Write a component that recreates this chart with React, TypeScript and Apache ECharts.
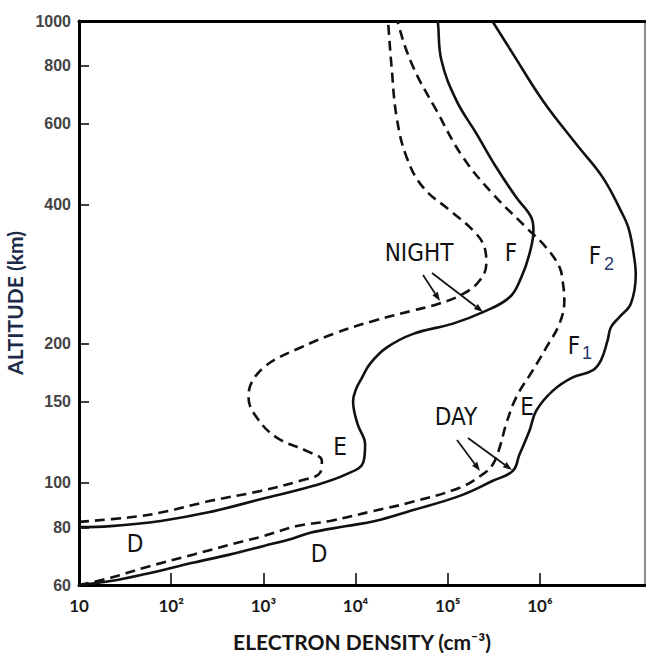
import React, { useEffect, useRef } from 'react';
import * as echarts from 'echarts';

// Axis ticks
const xTickValues = [10, 100, 1000, 10000, 100000, 1000000];
const xTickLabels = ['10', '10²', '10³', '10⁴', '10⁵', '10⁶'];
const yTickValues = [60, 80, 100, 150, 200, 400, 600, 800, 1000];
const yTickLabels = ['60', '80', '100', '150', '200', '400', '600', '800', '1000'];

// NIGHT, solid profile (electron density cm^-3 vs altitude km)
const nightSolidDensity = [10, 22, 77, 246, 930, 3500, 8000, 12100, 12700, 10500, 9400, 10200, 11600, 14400, 21700, 42200, 114000, 241000, 468000, 626000, 770000, 851000, 803000, 553000, 336000, 204000, 124000, 85400, 78500, 78000];
const nightSolidAltitude = [80.1, 80.5, 82.6, 86.1, 92.0, 98.4, 104.3, 110.5, 121, 134, 150, 160, 168, 181, 196, 210, 221, 234, 252, 278, 313, 352, 376, 415, 482, 571, 673, 822, 987, 1000];

// NIGHT, dashed profile
const nightDashedDensity = [10, 34, 77, 267, 929, 2510, 4130, 4310, 2970, 1410, 855, 690, 706, 760, 861, 1026, 1290, 2510, 5760, 15600, 42200, 80000, 145000, 222000, 262000, 251000, 188000, 105000, 54100, 35800, 27900, 24600, 22600, 22500];
const nightDashedAltitude = [82.2, 84.0, 86.1, 91.3, 95.9, 100.9, 105.1, 111.5, 117, 125, 138, 153, 160, 166, 172, 178, 184, 196, 210, 224, 236, 244, 256, 274, 298, 323, 352, 389, 436, 507, 619, 795, 987, 1000];

// DAY, solid profile
const daySolidDensity = [10, 22, 51, 176, 440, 1010, 1960, 3220, 8030, 16300, 38800, 135000, 309000, 508000, 600000, 770000, 910000, 1375000, 2265000, 3724000, 4592000, 5411000, 5888000, 7234000, 9684000, 10960000, 10520000, 9290000, 7854000, 4777000, 2461000, 1072000, 508000, 309000, 305000];
const daySolidAltitude = [60, 61.2, 63.3, 67.1, 69.9, 72.9, 75.4, 77.9, 80.5, 82.6, 86.8, 93.6, 100.9, 106, 115, 129.5, 143, 158, 169, 175, 184, 203, 217, 228, 244, 283, 308, 352, 382, 459, 542, 673, 850, 995, 1000];

// DAY, dashed profile
const dayDashedDensity = [10, 22, 51, 176, 612, 1010, 2310, 5300, 15600, 38800, 135000, 241000, 309000, 365000, 431000, 553000, 836000, 1170000, 1630000, 1840000, 1760000, 1630000, 1170000, 710000, 309000, 146000, 75500, 42200, 29000, 28800];
const dayDashedAltitude = [60, 62.2, 65.4, 69.9, 74.7, 76.6, 80.5, 82.6, 86.8, 90.5, 97.5, 104.3, 109.6, 119, 134, 153, 175, 196, 221, 248, 274, 293, 323, 357, 422, 507, 640, 795, 987, 1000];

const zip = (xs: number[], ys: number[]) => xs.map((x, i) => [x, ys[i]]);

const ANN_FONT = '"Liberation Sans Narrow", "DejaVu Sans Condensed", "Arial Narrow", sans-serif';
const TITLE_FONT = 'Lato, "Open Sans", sans-serif';

function labelFrom(values: number[], labels: string[], v: number) {
  const i = values.findIndex((t) => Math.abs(Math.log10(t) - Math.log10(v)) < 0.005);
  return i >= 0 ? labels[i] : '';
}

function annText(text: string, x: number, y: number, size = 24, color = '#111', family = ANN_FONT) {
  return {
    type: 'text',
    x,
    y,
    z: 50,
    style: {
      text,
      fill: color,
      fontSize: size,
      fontFamily: family,
      align: 'center',
      verticalAlign: 'middle',
      textAlign: 'center',
      textVerticalAlign: 'middle',
    },
  };
}

function arrow(x1: number, y1: number, x2: number, y2: number) {
  const ang = Math.atan2(y2 - y1, x2 - x1);
  const len = 9;
  const half = 3.2;
  const bx = x2 - len * Math.cos(ang);
  const by = y2 - len * Math.sin(ang);
  const px = -Math.sin(ang) * half;
  const py = Math.cos(ang) * half;
  return [
    {
      type: 'line',
      z: 50,
      shape: { x1, y1, x2: bx, y2: by },
      style: { stroke: '#111', lineWidth: 1.7 },
    },
    {
      type: 'polygon',
      z: 50,
      shape: { points: [[x2, y2], [bx + px, by + py], [bx - px, by - py]] },
      style: { fill: '#111' },
    },
  ];
}

export default function App() {
  const ref = useRef<HTMLDivElement>(null);

  useEffect(() => {
    if (!ref.current) return;
    const chart = echarts.init(ref.current, undefined, { renderer: 'svg' });

    const solid = { color: '#111', width: 2.6, type: 'solid' };
    const dashed = { color: '#111', width: 2.6, type: [10, 6] };

    const option: any = {
      animation: false,
      backgroundColor: '#ffffff',
      grid: { left: 79, right: 1, top: 21, bottom: 76, containLabel: false, outerBoundsMode: 'none' },
      xAxis: [
        {
          type: 'log',
          logBase: 10,
          min: 10,
          max: 13800000,
          name: 'ELECTRON DENSITY (cm⁻³)',
          nameLocation: 'middle',
          nameGap: 46,
          nameTextStyle: { fontFamily: TITLE_FONT, fontWeight: 'bold', fontSize: 21, color: '#161616' },
          axisLine: { show: true, onZero: false, lineStyle: { color: '#000', width: 3 } },
          axisTick: {
            show: true,
            inside: true,
            length: 12,
            customValues: xTickValues.slice(1),
            lineStyle: { color: '#000', width: 1.5 },
          },
          minorTick: { show: false },
          axisLabel: {
            show: true,
            customValues: xTickValues,
            formatter: (v: number) => labelFrom(xTickValues, xTickLabels, v),
            margin: 12,
            fontFamily: TITLE_FONT,
            fontWeight: 'bold',
            fontSize: 17,
            color: '#1a1a1a',
          },
          splitLine: { show: false },
        },
        {
          type: 'value',
          position: 'top',
          min: 0,
          max: 1,
          axisLine: { show: true, onZero: false, lineStyle: { color: '#000', width: 3 } },
          axisTick: { show: false },
          axisLabel: { show: false },
          splitLine: { show: false },
        },
      ],
      yAxis: [
        {
          type: 'log',
          logBase: 10,
          min: 60,
          max: 1000,
          name: 'ALTITUDE (km)',
          nameLocation: 'middle',
          nameGap: 44,
          nameRotate: 90,
          nameTextStyle: { fontFamily: TITLE_FONT, fontWeight: 'bold', fontSize: 21, color: '#1d2a48' },
          axisLine: { show: true, onZero: false, lineStyle: { color: '#000', width: 3 } },
          axisTick: {
            show: true,
            inside: true,
            length: 10,
            customValues: yTickValues.slice(1, -1),
            lineStyle: { color: '#000', width: 1.5 },
          },
          minorTick: { show: false },
          axisLabel: {
            show: true,
            customValues: yTickValues,
            formatter: (v: number) => labelFrom(yTickValues, yTickLabels, v),
            margin: 8,
            fontFamily: '"Liberation Sans", Arial, sans-serif',
            fontWeight: 'bold',
            fontSize: 16,
            color: '#444444',
          },
          splitLine: { show: false },
        },
        {
          type: 'value',
          position: 'right',
          min: 0,
          max: 1,
          axisLine: { show: true, onZero: false, lineStyle: { color: '#666', width: 1.5 } },
          axisTick: { show: false },
          axisLabel: { show: false },
          splitLine: { show: false },
        },
      ],
      series: [
        {
          name: 'Night (solid)',
          type: 'line',
          data: zip(nightSolidDensity, nightSolidAltitude),
          showSymbol: false,
          smooth: 0.4,
          lineStyle: solid,
        },
        {
          name: 'Night (dashed)',
          type: 'line',
          data: zip(nightDashedDensity, nightDashedAltitude),
          showSymbol: false,
          smooth: 0.4,
          lineStyle: dashed,
        },
        {
          name: 'Day (solid)',
          type: 'line',
          data: zip(daySolidDensity, daySolidAltitude),
          showSymbol: false,
          smooth: 0.4,
          lineStyle: solid,
        },
        {
          name: 'Day (dashed)',
          type: 'line',
          data: zip(dayDashedDensity, dayDashedAltitude),
          showSymbol: false,
          smooth: 0.4,
          lineStyle: dashed,
        },
      ],
      graphic: [
        annText('NIGHT', 419, 253),
        annText('F', 511, 253),
        annText('F', 595, 256),
        annText('2', 609, 264, 18, '#24386a', '"Liberation Sans", Arial, sans-serif'),
        annText('F', 574, 346),
        annText('1', 587, 353, 18, '#24386a', '"Liberation Sans", Arial, sans-serif'),
        annText('E', 527, 407),
        annText('DAY', 456, 417),
        annText('E', 340, 447),
        annText('D', 135, 544),
        annText('D', 319, 554),
        ...arrow(423, 275, 440, 301),
        ...arrow(432, 273, 483, 312),
        ...arrow(457, 440, 480, 471),
        ...arrow(468, 438, 512, 470),
      ],
    };

    chart.setOption(option);
    return () => chart.dispose();
  }, []);

  return (
    <div
      ref={ref}
      style={{ position: 'absolute', left: 0, top: 0, width: 646, height: 661, background: '#fff' }}
    />
  );
}
